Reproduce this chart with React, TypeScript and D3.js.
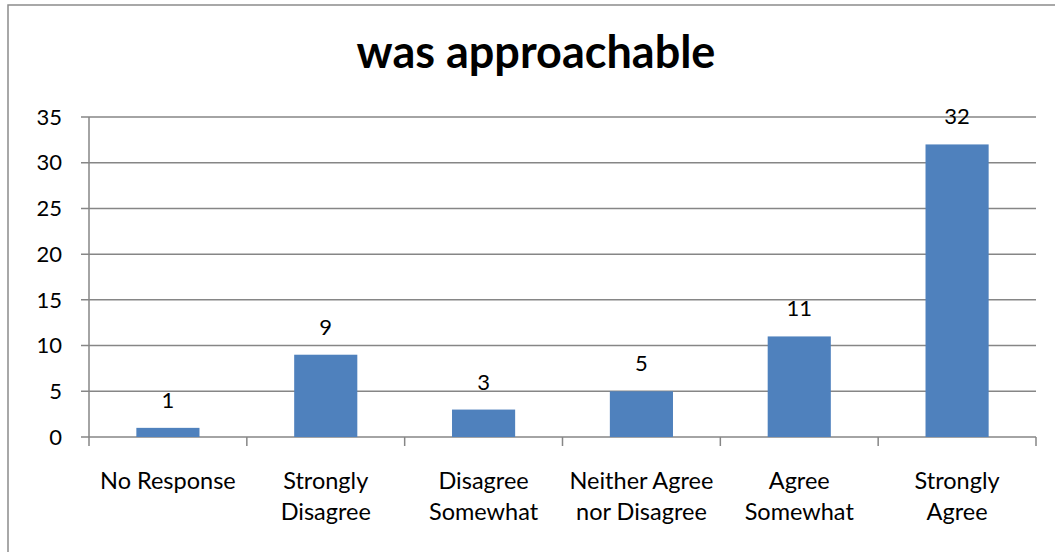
import React from 'react';
import * as d3 from 'd3';

const categories: string[][] = [
  ['No Response'],
  ['Strongly', 'Disagree'],
  ['Disagree', 'Somewhat'],
  ['Neither Agree', 'nor Disagree'],
  ['Agree', 'Somewhat'],
  ['Strongly', 'Agree'],
];
const counts = [1, 9, 3, 5, 11, 32];
const yTicks = [0, 5, 10, 15, 20, 25, 30, 35];
const title = 'was approachable';

const W = 1055;
const H = 552;
const margin = { top: 117, right: 19, bottom: 115, left: 89 };
const font = 'Lato, Carlito, Calibri, sans-serif';

export default function App() {
  const innerW = W - margin.left - margin.right;
  const innerH = H - margin.top - margin.bottom;
  const idx = categories.map((_, i) => i);

  const x = d3.scaleBand<number>().domain(idx).range([0, innerW]).paddingInner(0.6).paddingOuter(0.3);
  const y = d3.scaleLinear().domain([0, 35]).range([innerH, 0]);
  const step = innerW / categories.length;
  const gridColor = '#868686';

  return (
    <svg width={W} height={H} style={{ position: 'absolute', left: 0, top: 0 }}>
      <rect x={8} y={5} width={W} height={H} fill="#fff" stroke="#8c8c8c" strokeWidth={1.5} />
      <text x={536} y={68} textAnchor="middle" fontFamily={font} fontWeight="bold" fontSize={45} fill="#000">
        {title}
      </text>
      <g transform={`translate(${margin.left},${margin.top})`}>
        {/* horizontal gridlines + y ticks */}
        {yTicks.map(t => (
          <g key={t}>
            <line x1={-8} x2={innerW} y1={y(t)} y2={y(t)} stroke={gridColor} strokeWidth={1.5} />
            <text x={-27} y={y(t)} dy="0.35em" textAnchor="end" fontFamily={font} fontSize={22} fill="#000">
              {t}
            </text>
          </g>
        ))}
        {/* y axis line */}
        <line x1={0} x2={0} y1={0} y2={innerH} stroke={gridColor} strokeWidth={1.5} />
        {/* x ticks at category boundaries */}
        {d3.range(categories.length + 1).map(i => (
          <line key={i} x1={i * step} x2={i * step} y1={innerH} y2={innerH + 9} stroke={gridColor} strokeWidth={1.5} />
        ))}
        {/* bars */}
        {counts.map((v, i) => (
          <rect key={i} x={x(i)} y={y(v)} width={x.bandwidth()} height={innerH - y(v)} fill="#4F81BD" />
        ))}
        {/* value labels */}
        {counts.map((v, i) => (
          <text key={i} x={(x(i) as number) + x.bandwidth() / 2} y={y(v) - 20} textAnchor="middle"
            fontFamily={font} fontSize={22} fill="#000">
            {v}
          </text>
        ))}
        {/* category labels */}
        {categories.map((lines, i) => (
          <text key={i} textAnchor="middle" fontFamily={font} fontSize={23.5} fill="#000">
            {lines.map((l, j) => (
              <tspan key={j} x={(x(i) as number) + x.bandwidth() / 2} y={innerH + 52 + j * 31}>{l}</tspan>
            ))}
          </text>
        ))}
      </g>
    </svg>
  );
}
